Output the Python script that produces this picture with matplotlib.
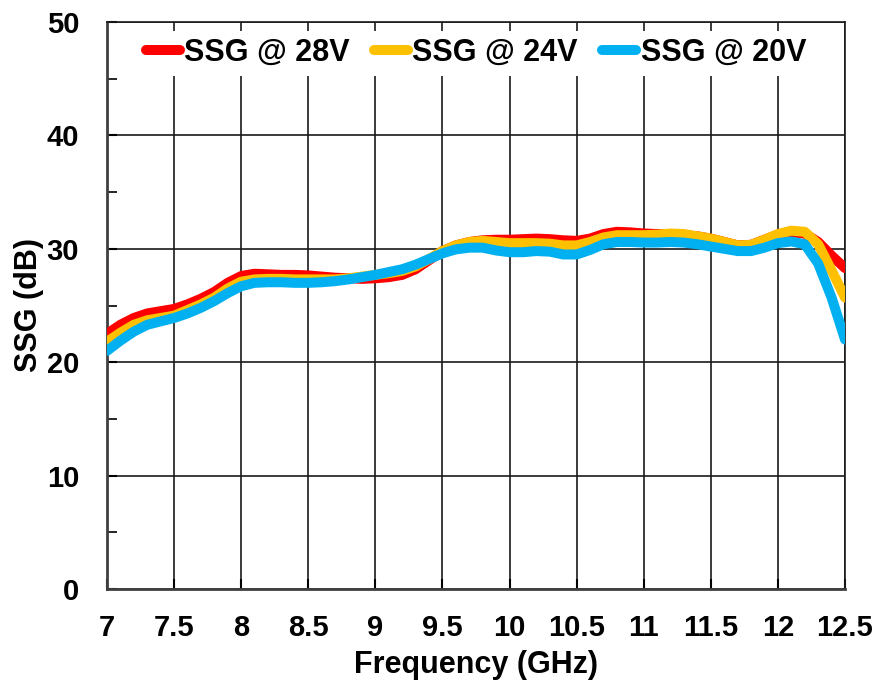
import matplotlib
matplotlib.use("Agg")
import matplotlib.pyplot as plt
from matplotlib.ticker import MultipleLocator

plt.rcParams['font.family'] = ['Liberation Sans', 'DejaVu Sans']
plt.rcParams['font.weight'] = 'bold'

freq = [7.0, 7.1, 7.2, 7.3, 7.4, 7.5, 7.6, 7.7, 7.8, 7.9,
        8.0, 8.1, 8.2, 8.3, 8.4, 8.5, 8.6, 8.7, 8.8, 8.9,
        9.0, 9.1, 9.2, 9.3, 9.4, 9.5, 9.6, 9.7, 9.8, 9.9,
        10.0, 10.1, 10.2, 10.3, 10.4, 10.5, 10.6, 10.7, 10.8, 10.9,
        11.0, 11.1, 11.2, 11.3, 11.4, 11.5, 11.6, 11.7, 11.8, 11.9,
        12.0, 12.1, 12.2, 12.3, 12.4, 12.5]

ssg_28v = [22.5, 23.3, 23.9, 24.3, 24.5, 24.7, 25.1, 25.6, 26.2, 27.0,
           27.6, 27.8, 27.75, 27.7, 27.7, 27.65, 27.55, 27.45, 27.4, 27.35,
           27.4, 27.5, 27.7, 28.2, 29.0, 29.8, 30.3, 30.6, 30.75, 30.8,
           30.8, 30.85, 30.9, 30.85, 30.75, 30.7, 30.9, 31.3, 31.5, 31.45,
           31.35, 31.3, 31.3, 31.2, 31.1, 30.9, 30.6, 30.3, 30.35, 30.8,
           31.25, 31.45, 31.35, 30.6, 29.4, 28.3]

ssg_24v = [21.8, 22.6, 23.3, 23.7, 23.9, 24.1, 24.6, 25.1, 25.7, 26.5,
           27.1, 27.3, 27.35, 27.35, 27.3, 27.3, 27.3, 27.3, 27.4, 27.55,
           27.7, 27.85, 28.05, 28.45, 29.1, 29.8, 30.3, 30.6, 30.7, 30.6,
           30.5, 30.5, 30.5, 30.45, 30.3, 30.3, 30.6, 31.0, 31.2, 31.2,
           31.2, 31.25, 31.35, 31.3, 31.1, 30.9, 30.6, 30.3, 30.35, 30.8,
           31.3, 31.6, 31.5, 30.4, 28.1, 25.7]

ssg_20v = [21.0, 21.9, 22.7, 23.3, 23.6, 23.9, 24.3, 24.8, 25.4, 26.1,
           26.7, 27.0, 27.05, 27.05, 27.0, 27.0, 27.05, 27.15, 27.3, 27.5,
           27.7, 27.95, 28.2, 28.6, 29.1, 29.6, 29.95, 30.1, 30.1, 29.85,
           29.7, 29.7, 29.8, 29.75, 29.5, 29.5, 29.9, 30.4, 30.6, 30.6,
           30.55, 30.55, 30.6, 30.55, 30.4, 30.2, 30.0, 29.8, 29.8, 30.1,
           30.5, 30.65, 30.4, 28.7, 25.7, 22.0]

series_labels = ['SSG @ 28V', 'SSG @ 24V', 'SSG @ 20V']
series_colors = ['#FF0000', '#FFC000', '#00B0F0']

x_ticks = [7, 7.5, 8, 8.5, 9, 9.5, 10, 10.5, 11, 11.5, 12, 12.5]
x_ticklabels = ['7', '7.5', '8', '8.5', '9', '9.5', '10', '10.5', '11', '11.5', '12', '12.5']
y_ticks = [0, 10, 20, 30, 40, 50]

fig = plt.figure(figsize=(8.77, 6.85), dpi=100)
ax = fig.add_axes([107/877, 1 - 589/685, (845 - 107)/877, (589 - 22)/685])

for vals, lab, col in zip([ssg_28v, ssg_24v, ssg_20v], series_labels, series_colors):
    ax.plot(freq, vals, color=col, lw=7.2, label=lab, solid_capstyle='round',
            solid_joinstyle='round', zorder=3)

ax.set_xlim(7, 12.5)
ax.set_ylim(0, 50)
ax.set_xticks(x_ticks)
ax.set_xticklabels(x_ticklabels)
ax.set_yticks(y_ticks)
ax.yaxis.set_minor_locator(MultipleLocator(5))

ax.grid(True, which='major', color='#1a1a1a', lw=1.2, zorder=1)
ax.set_axisbelow(True)

ax.tick_params(axis='both', which='major', direction='in', length=7, width=1.5,
               labelsize=21, color='black')
ax.tick_params(axis='y', which='major', pad=20)
ax.tick_params(axis='x', which='major', pad=18)
ax.tick_params(axis='y', which='minor', direction='in', length=7, width=1.2)
for lbl in ax.get_xticklabels() + ax.get_yticklabels():
    lbl.set_fontweight('bold')

for side in ['left', 'bottom']:
    ax.spines[side].set_color('#404040')
    ax.spines[side].set_linewidth(2)
for side in ['top', 'right']:
    ax.spines[side].set_color('#1a1a1a')
    ax.spines[side].set_linewidth(1.2)

ax.set_xlabel('Frequency (GHz)', fontsize=22, fontweight='bold', labelpad=6)
ax.set_ylabel('SSG (dB)', fontsize=22, fontweight='bold', labelpad=2)

leg = ax.legend(loc='upper center', bbox_to_anchor=(0.5, 0.985), ncol=3, frameon=True,
                fontsize=22, handlelength=1.1, handletextpad=0.15, columnspacing=0.8,
                borderpad=0.25, borderaxespad=0.0)
leg.get_frame().set_facecolor('white')
leg.get_frame().set_edgecolor('none')
leg.get_frame().set_alpha(1)
leg.get_frame().set_boxstyle('square', pad=0)
for t in leg.get_texts():
    t.set_fontweight('bold')
for h in leg.legend_handles:
    h.set_solid_capstyle('round')

fig.savefig('out.png', dpi=100)
